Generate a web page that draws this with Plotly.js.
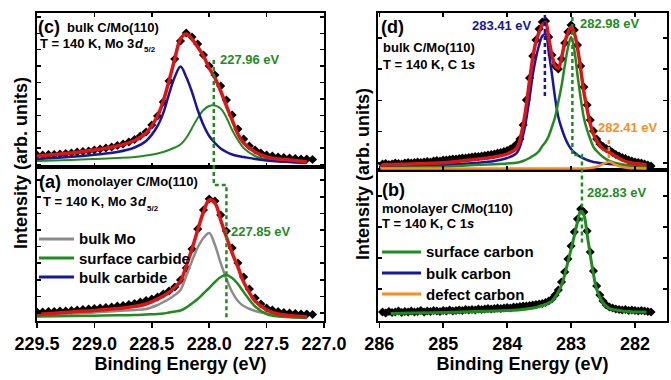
<!DOCTYPE html>
<html><head><meta charset="utf-8">
<script src="https://cdn.plot.ly/plotly-3.0.1.min.js"></script>
<style>html,body{margin:0;padding:0;background:#fff}#chart{width:671px;height:380px}</style>
</head><body><div id="chart"></div>
<script>
// ===== Mo 3d5/2 (left panels) =====
const energyDataMo = [229.50,229.45,229.40,229.35,229.30,229.25,229.20,229.15,229.10,229.05,229.00,228.95,228.90,228.85,228.80,228.75,228.70,228.65,228.60,228.55,228.50,228.45,228.40,228.35,228.30,228.25,228.20,228.15,228.10,228.05,228.00,227.95,227.90,227.85,227.80,227.75,227.70,227.65,227.60,227.55,227.50,227.45,227.40,227.35,227.30,227.25,227.20,227.15,227.10];
// (c) bulk C/Mo(110) measured
const dataBulkMo = [12,12,12.5,12.5,13,13.5,14,15,15.5,16,17,18,19,20,21.5,23,25,27.5,31,35,42,51,65,86,108,126,134,130,123,112,101,92,81,67,52,38,28,21,17,14,12,11,10,9.5,9,8.5,8,8,7.5];
// (a) monolayer C/Mo(110) measured
const dataMonoMo = [9,9,9.5,9.5,10,10,10.5,11,11.5,12,12.5,13,13.5,14,15,15.5,16.5,17.5,19,20.5,22,24,27,30,34,41,53,72,92,111,122,120,106,90,73,58,44,32,23,17,13,11,9.5,8.5,8,7.5,7,7,6.5];

const energyFitMo = [229.5,229.2,229.0,228.8,228.65,228.55,228.45,228.4,228.35,228.3,228.25,228.2,228.15,228.1,228.05,228.0,227.95,227.9,227.85,227.8,227.75,227.7,227.6,227.5,227.4,227.3,227.15];
const fitBulkMo      = [11,14,17,21,26.5,34,51,66,86,108,128,133,128,120,111,99,89,76,61,47,33,24,15,10,8,7,5];
const bulkCarbideC   = [8,10.2,12.3,15,19.5,26,41,54,73,90,100.5,90,75,57,42,31,24,18.5,15,12.5,11,10,8,6.5,5.5,5,4];
const surfCarbideC   = [6,7,8,9,10,11.5,13.5,15,17,19.5,22.5,29,39,49,57,61,61.5,58.5,49.5,37,27,19,11,7.5,6,5,4];
const fitMonoMo      = [6.5,9,10.5,12.5,14.5,17,22,25,28.5,33.5,40,55,72,91,109,121,118,101,84,68,54,39,20,11,7,5.5,4];
const bulkMo         = [6,7.5,8.5,10,11,12,16,19,22,26,31,45,60,73.5,83,88,76,58,42,29,20,15,10,7.5,5.5,4.5,4];
const surfCarbideA   = [4.5,5,5.3,5.7,6,6.5,7,7.5,8.5,9.5,10.5,13.5,17.6,22,27.5,33,39,44,46,43,37,29,14.5,7,4.5,3.8,3];

// ===== C 1s (right panels) =====
const energyDataC = [285.95,285.90,285.85,285.80,285.75,285.70,285.65,285.60,285.55,285.50,285.45,285.40,285.35,285.30,285.25,285.20,285.15,285.10,285.05,285.00,284.95,284.90,284.85,284.80,284.75,284.70,284.65,284.60,284.55,284.50,284.45,284.40,284.35,284.30,284.25,284.20,284.15,284.10,284.05,284.00,283.95,283.90,283.85,283.80,283.75,283.70,283.65,283.60,283.55,283.50,283.45,283.40,283.35,283.30,283.25,283.20,283.15,283.10,283.05,283.00,282.95,282.90,282.85,282.80,282.75,282.70,282.65,282.60,282.55,282.50,282.45,282.40,282.35,282.30,282.25,282.20,282.15,282.10,282.05,282.00,281.95,281.90,281.85,281.80,281.75];
// (d) bulk C/Mo(110) measured
const dataBulkC = [6,6.5,5.5,6,7,6.5,6,7,7.5,7,7.5,8,7.5,8,8.5,8,9,9.5,9,10,10,10.5,11,11,11.5,12,12,12.5,13,13.5,13.5,14,14.5,15,15.5,16,17,17.5,18.5,19.5,21,23,26,31,45,70,92,114,130,141,148,149,133,115,104,101,111,127,138,145,140,125,104,83,65,50,39,31,26,23.5,21.5,20,17.5,15.5,14,12.5,11.5,10,9,8,7.5,7,6,5,4];
// (b) monolayer C/Mo(110) measured
const dataMonoC = [9,8,9.5,8.5,9,10,8.5,9.5,9,10,9,9.5,10.5,9,10,9.5,10.5,10,9.5,10.5,10,11,10,10.5,11,10.5,11.5,11,11.5,11,12,11.5,12,12.5,12,12.5,13,12.5,13,13.5,13,14,14,14.5,15,15,15.5,16,16.5,17,17.5,18.5,20,22,26,31,39,49,62,75,89,102,112,109,90,69,50,35,26,20,16,14,13,12,11.5,11,11.5,10.5,11,10.5,10,10.5,10,9.5,9];

const energyFitC = [285.98,285.82,285.5,285.0,284.5,284.2,284.0,283.85,283.75,283.65,283.6,283.55,283.5,283.45,283.4,283.35,283.3,283.25,283.2,283.15,283.1,283.05,283.0,282.95,282.9,282.85,282.8,282.75,282.7,282.65,282.6,282.5,282.4,282.3,282.2,282.1,282.0,281.82];
const fitBulkC     = [5,5.5,6,7.3,10.5,13,16,22,45,89,112,128,138,145,147.5,132,115,104,101.5,112,127,137,143,137,122,101,78,61,46,36,29,21,17.5,13.5,10,7.5,6.5,5];
const bulkCarbon   = [3.3,3.5,4,5,7,9,12,17,35,72,95,112,125,134,136,118,96,72,53,42,33,26,21,17.5,15,13,11.5,10,9,8,7.5,6.5,6,5.5,5,4.5,4,3.5];
const surfCarbonD  = [2,2.2,2.5,3.3,5,5.8,6.5,7.3,9,12,14,16,19,24,28,34,43,53,68,84,104,122,133,120,95,72,52,40,31,23,19,13,9,7,5.5,4.5,3.5,3];
const defectCarbon = [1.5,1.5,1.5,1.5,1.5,1.5,1.5,1.5,1.5,1.5,1.5,1.5,1.5,1.5,1.5,1.5,1.5,1.5,1.5,1.5,1.5,1.5,1.5,1.5,1.5,1.5,1.6,1.7,2,2.5,3.3,6,8.3,5,3,2,1.7,1.5];
const surfCarbonB  = [null,7.5,8,8.5,9.5,10,10.5,11,11.5,12.5,13,13.5,14.5,15.5,16.5,18,20,24,29,36,46,59,72,85,99,110,106,87,66,47,32,18,12.5,11,10,9.5,9,9];

// peak positions (eV)
const peaksMo = [227.96, 227.85];
const peaksC  = [283.41, 282.98, 282.41, 282.83];
// legend entries
const legendMo = ['bulk Mo', 'surface carbide', 'bulk carbide'];
const legendC  = ['surface carbon', 'bulk carbon', 'defect carbon'];

// ===== styling =====
const RED='#e01414', BLUE='#1616a0', GREEN='#1f8c1f', GRAY='#8c8c8c', ORANGE='#ff8c1a';
const FONT='"Liberation Sans", Arial, sans-serif';
const W=671, H=380;
const xp = px => px/W, yp = py => 1 - py/H;

const dataMarker = {symbol:'diamond', size:7, color:'#000'};
const traces = [
  // panel c
  {x:energyDataMo, y:dataBulkMo, xaxis:'x3', yaxis:'y3', mode:'markers', marker:dataMarker, name:'data'},
  {x:energyFitMo, y:surfCarbideC, xaxis:'x3', yaxis:'y3', mode:'lines', name:legendMo[1], line:{color:GREEN,width:2,shape:'spline'}},
  {x:energyFitMo, y:bulkCarbideC, xaxis:'x3', yaxis:'y3', mode:'lines', name:legendMo[2], line:{color:BLUE,width:2.5,shape:'spline'}},
  {x:energyFitMo, y:fitBulkMo, xaxis:'x3', yaxis:'y3', mode:'lines', name:'fit', line:{color:RED,width:3.5,shape:'spline'}},
  // panel a
  {x:energyDataMo, y:dataMonoMo, xaxis:'x', yaxis:'y', mode:'markers', marker:dataMarker, name:'data'},
  {x:energyFitMo, y:bulkMo, xaxis:'x', yaxis:'y', mode:'lines', name:legendMo[0], line:{color:GRAY,width:2.5,shape:'spline'}},
  {x:energyFitMo, y:surfCarbideA, xaxis:'x', yaxis:'y', mode:'lines', name:legendMo[1], line:{color:GREEN,width:2.5,shape:'spline'}},
  {x:energyFitMo, y:fitMonoMo, xaxis:'x', yaxis:'y', mode:'lines', name:'fit', line:{color:RED,width:3.5,shape:'spline'}},
  // panel d
  {x:energyDataC, y:dataBulkC, xaxis:'x4', yaxis:'y4', mode:'markers', marker:dataMarker, name:'data'},
  {x:energyFitC, y:bulkCarbon, xaxis:'x4', yaxis:'y4', mode:'lines', name:legendC[1], line:{color:BLUE,width:2.5,shape:'spline'}},
  {x:energyFitC, y:surfCarbonD, xaxis:'x4', yaxis:'y4', mode:'lines', name:legendC[0], line:{color:GREEN,width:2.5,shape:'spline'}},
  {x:energyFitC, y:fitBulkC, xaxis:'x4', yaxis:'y4', mode:'lines', name:'fit', line:{color:RED,width:3.5,shape:'spline'}},
  {x:energyFitC, y:defectCarbon, xaxis:'x4', yaxis:'y4', mode:'lines', name:legendC[2], line:{color:ORANGE,width:2.5,shape:'spline'}},
  // panel b
  {x:energyDataC, y:dataMonoC, xaxis:'x2', yaxis:'y2', mode:'markers', marker:dataMarker, name:'data'},
  {x:energyFitC, y:surfCarbonB, xaxis:'x2', yaxis:'y2', mode:'lines', name:legendC[0], line:{color:GREEN,width:3,shape:'spline'}}
];

const tickFont = {family:FONT, size:18, color:'#000', weight:'bold'};
const yBase = {showticklabels:false, ticks:'inside', ticklen:4, tickwidth:1.5, tickcolor:'#000', showline:true, linewidth:2, linecolor:'#000', mirror:'ticks', showgrid:false, zeroline:false};
const xBottom = (range, dtick, fmt, dom, anchor) => ({range, domain:dom, anchor, dtick, tickformat:fmt, ticks:'outside', ticklen:5, tickwidth:1.5, tickcolor:'#000', showline:true, linewidth:2, linecolor:'#000', mirror:true, showgrid:false, zeroline:false, tickfont:tickFont, title:{text:'Binding Energy (eV)', font:{family:FONT,size:18,color:'#000',weight:'bold'}, standoff:4}});
const xTop = (range, dtick, dom, anchor) => ({range, domain:dom, anchor, dtick, ticks:'inside', ticklen:4, tickwidth:1.5, tickcolor:'#000', showticklabels:false, showline:true, linewidth:2, linecolor:'#000', mirror:'ticks', showgrid:false, zeroline:false});

const domL = [xp(37), xp(324)], domR = [xp(378), xp(667)];
const rangeMo = [229.5, 227.0], rangeC = [286.02, 281.5];

const txt = (s, px, py, size, extra, fontExtra) => Object.assign({text:s, xref:'paper', yref:'paper', x:xp(px), y:yp(py), xanchor:'left', yanchor:'middle', showarrow:false, borderpad:0, font:Object.assign({family:FONT,size:size,color:'#000',weight:'bold'}, fontExtra||{})}, extra||{});
const peakLbl = (v, xref, shift, py, color, anchor) => ({text:v.toFixed(2)+' eV', xref:xref, yref:'paper', x:v, xshift:shift, y:yp(py), xanchor:anchor||'left', yanchor:'middle', showarrow:false, font:{family:FONT,size:13,color:color,weight:'bold'}});
const ital = {style:'italic'};

const annotations = [
  // panel c
  txt('(c)', 37, 27, 18), txt('bulk C/Mo(110)', 66, 27, 13),
  txt('T = 140 K, Mo 3', 39, 43, 13), txt('d', 133.5, 43, 13, null, ital), txt('5/2', 142.5, 50, 8),
  // panel a
  txt('(a)', 38, 182, 18), txt('monolayer C/Mo(110)', 66, 182, 13),
  txt('T = 140 K, Mo 3', 42, 201, 13), txt('d', 136.5, 201, 13, null, ital), txt('5/2', 145.5, 208, 8),
  // panel d
  txt('(d)', 380, 27, 18), txt('bulk C/Mo(110)', 382, 48, 13),
  txt('T = 140 K, C 1', 382, 65, 13), txt('s', 467, 65, 13, null, ital),
  // panel b
  txt('(b)', 381, 190, 18), txt('monolayer C/Mo(110)', 381, 208, 13),
  txt('T = 140 K, C 1', 381, 224, 13), txt('s', 466, 224, 13, null, ital),
  // y titles
  txt('Intensity (arb. units)', 21, 163, 18, {xanchor:'center', textangle:-90}),
  txt('Intensity (arb. units)', 363, 174, 18, {xanchor:'center', textangle:-90}),
  // peak labels
  peakLbl(peaksMo[0], 'x', 4, 59, GREEN),
  peakLbl(peaksMo[1], 'x', 3, 231, GREEN),
  peakLbl(peaksC[0], 'x2', -11, 26, BLUE, 'right'),
  peakLbl(peaksC[1], 'x2', 6, 24, GREEN),
  peakLbl(peaksC[2], 'x2', -13, 127, ORANGE),
  peakLbl(peaksC[3], 'x2', 3, 192, GREEN),
  // legend texts
  txt(legendMo[0], 78, 239, 15), txt(legendMo[1], 78, 258, 15), txt(legendMo[2], 78, 277, 15),
  txt(legendC[0], 425, 252, 15), txt(legendC[1], 425, 273, 15), txt(legendC[2], 425, 294, 15)
];

const dash = {dash:'4px,3px', width:2.5};
const legLine = (x0, x1, py, color) => ({type:'line', xref:'paper', yref:'paper', x0:xp(x0), x1:xp(x1), y0:yp(py), y1:yp(py), line:{color:color, width:3}});
const shapes = [
  {type:'path', xref:'x', yref:'paper', path:`M${peaksMo[0]},${yp(60)} L${peaksMo[0]},${yp(185)} L${peaksMo[1]},${yp(185)} L${peaksMo[1]},${yp(318)}`, line:Object.assign({color:GREEN},dash)},
  {type:'line', xref:'x2', yref:'paper', x0:peaksC[0], x1:peaksC[0], y0:yp(15), y1:yp(97), line:Object.assign({color:BLUE},dash)},
  {type:'path', xref:'x2', yref:'paper', path:`M${peaksC[1]},${yp(17)} L${peaksC[1]},${yp(155)} L${peaksC[3]},${yp(155)} L${peaksC[3]},${yp(244)}`, line:Object.assign({color:GREEN},dash)},
  {type:'line', xref:'x2', yref:'paper', x0:peaksC[2], x1:peaksC[2], y0:yp(140), y1:yp(161), line:Object.assign({color:ORANGE},dash)},
  legLine(39, 74, 239, GRAY), legLine(39, 74, 258, GREEN), legLine(39, 74, 277, BLUE),
  legLine(382, 421, 252, GREEN), legLine(382, 421, 273, BLUE), legLine(382, 421, 294, ORANGE)
];

const layout = {
  width:W, height:H, margin:{l:0,r:0,t:0,b:0}, paper_bgcolor:'#fff', plot_bgcolor:'#fff', showlegend:false,
  xaxis: xBottom(rangeMo, 0.5, '.1f', domL, 'y'),
  xaxis2: xBottom(rangeC, 1, 'd', domR, 'y2'),
  xaxis3: xTop(rangeMo, 0.5, domL, 'y3'),
  xaxis4: xTop(rangeC, 1, domR, 'y4'),
  yaxis: Object.assign({}, yBase, {domain:[yp(321), yp(167)], range:[0,154], tick0:8, dtick:16.6, anchor:'x'}),
  yaxis3: Object.assign({}, yBase, {domain:[yp(167), yp(13)], range:[0,154], tick0:2.5, dtick:16.4, anchor:'x3'}),
  yaxis2: Object.assign({}, yBase, {domain:[yp(321), yp(170)], range:[0,151], tick0:1, dtick:31, anchor:'x2'}),
  yaxis4: Object.assign({}, yBase, {domain:[yp(170), yp(13)], range:[0,157], tick0:7, dtick:31.3, anchor:'x4'}),
  annotations, shapes
};
Plotly.newPlot('chart', traces, layout, {displayModeBar:false, staticPlot:true});
</script></body></html>
